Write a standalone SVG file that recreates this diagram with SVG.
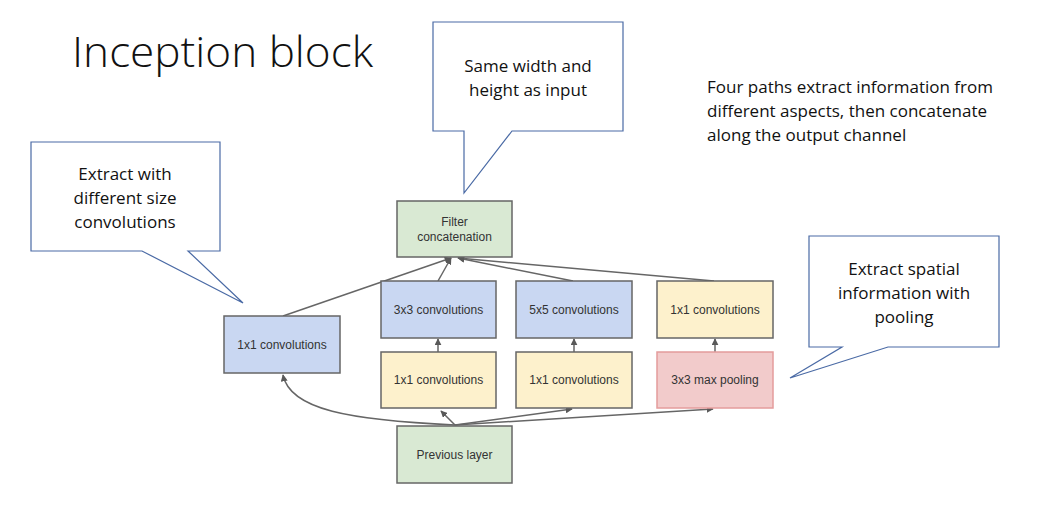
<svg xmlns="http://www.w3.org/2000/svg" width="1056" height="510" viewBox="0 0 1056 510">
<defs>
<marker id="ah" viewBox="0 0 10 10" refX="9" refY="5" markerWidth="7" markerHeight="7" markerUnits="userSpaceOnUse" orient="auto">
<path d="M0,0 L10,5 L0,10 z" fill="#595959"/>
</marker>
</defs>
<style>
.node{stroke:#666666;stroke-width:1.5}
.blue{fill:#c9d7f2}
.yellow{fill:#fdf1cc}
.green{fill:#d9e9d3}
.pink{fill:#f2cbcb;stroke:#e49c9c}
.nt{font-family:"Liberation Sans",Arial,sans-serif;font-size:12px;fill:#333333;text-anchor:middle}
.call{fill:#ffffff;stroke:#4a6aa5;stroke-width:1.2}
.ct{font-family:"Open Sans","Liberation Sans",sans-serif;font-size:17px;fill:#111111;text-anchor:middle}
.rt{font-family:"Open Sans","Liberation Sans",sans-serif;font-size:17px;fill:#111111}
.conn{fill:none;stroke:#666666;stroke-width:1.5;marker-end:url(#ah)}
</style>
<rect width="1056" height="510" fill="#ffffff"/>
<text x="72" y="67" font-family="'Open Sans','Liberation Sans',sans-serif" font-weight="300" font-size="42" fill="#111111" textLength="301" lengthAdjust="spacingAndGlyphs">Inception block</text>
<text class="rt" x="707" y="93">Four paths extract information from</text>
<text class="rt" x="707" y="117">different aspects, then concatenate</text>
<text class="rt" x="707" y="141">along the output channel</text>

<g id="callout-conv">
<path class="call" d="M31,142 H220 V251 H188 L243,303 L142,251 H31 Z"/>
<text class="ct" x="125" y="180">Extract with</text>
<text class="ct" x="125" y="204">different size</text>
<text class="ct" x="125" y="228">convolutions</text>
</g>
<g id="callout-same">
<path class="call" d="M433,22 H623 V131 H512 L464,193 L464,131 H433 Z"/>
<text class="ct" x="528" y="72">Same width and</text>
<text class="ct" x="528" y="96">height as input</text>
</g>
<g id="callout-pool">
<path class="call" d="M809,236 H999 V347 H888 L790,378 L842,347 H809 Z"/>
<text class="ct" x="904" y="275">Extract spatial</text>
<text class="ct" x="904" y="299">information with</text>
<text class="ct" x="904" y="323">pooling</text>
</g>

<g id="connectors">
<path class="conn" d="M283,316 L451,258"/>
<path class="conn" d="M438,281 L451,258"/>
<path class="conn" d="M573,281 L458,258"/>
<path class="conn" d="M714,281 L458,258"/>
<path class="conn" d="M438,352 L438,339"/>
<path class="conn" d="M574,352 L574,339"/>
<path class="conn" d="M715,352 L715,339"/>
<path class="conn" d="M455,425 C350,420 290,410 283,375"/>
<path class="conn" d="M455,425 L441,411"/>
<path class="conn" d="M455,425 L572,409"/>
<path class="conn" d="M455,425 L713,409"/>
</g>

<g id="filter-concat">
<rect class="node green" x="397" y="201" width="115" height="56"/>
<text class="nt" x="454.5" y="226">Filter</text>
<text class="nt" x="454.5" y="241">concatenation</text>
</g>
<g id="conv1x1-a">
<rect class="node blue" x="224" y="316" width="116" height="57"/>
<text class="nt" x="282" y="349">1x1 convolutions</text>
</g>
<g id="conv3x3">
<rect class="node blue" x="381" y="281" width="115" height="57"/>
<text class="nt" x="438.5" y="314">3x3 convolutions</text>
</g>
<g id="conv1x1-b">
<rect class="node yellow" x="381" y="352" width="115" height="56"/>
<text class="nt" x="438.5" y="384">1x1 convolutions</text>
</g>
<g id="conv5x5">
<rect class="node blue" x="516" y="281" width="116" height="57"/>
<text class="nt" x="574" y="314">5x5 convolutions</text>
</g>
<g id="conv1x1-c">
<rect class="node yellow" x="516" y="352" width="116" height="56"/>
<text class="nt" x="574" y="384">1x1 convolutions</text>
</g>
<g id="conv1x1-d">
<rect class="node yellow" x="657" y="281" width="116" height="57"/>
<text class="nt" x="715" y="314">1x1 convolutions</text>
</g>
<g id="maxpool">
<rect class="node pink" x="657" y="352" width="116" height="56"/>
<text class="nt" x="715" y="384">3x3 max pooling</text>
</g>
<g id="prev-layer">
<rect class="node green" x="397" y="426" width="115" height="57"/>
<text class="nt" x="454.5" y="459">Previous layer</text>
</g>
</svg>
